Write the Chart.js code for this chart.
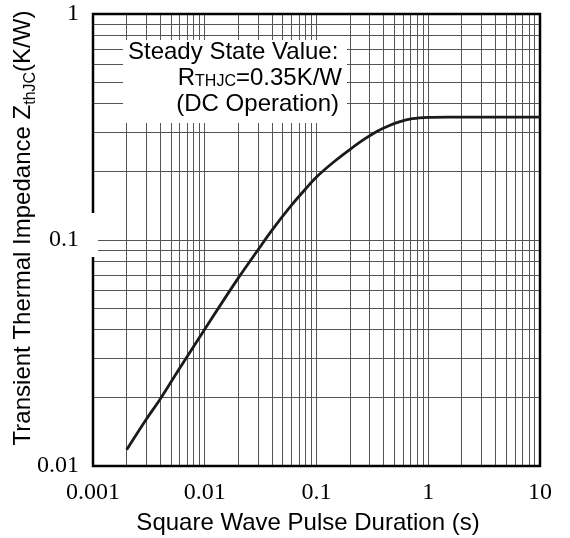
<!DOCTYPE html>
<html>
<head>
<meta charset="utf-8">
<script src="https://cdn.jsdelivr.net/npm/chart.js@4.4.1/dist/chart.umd.min.js"></script>
<style>
  body { margin: 0; background: #fff; }
  #wrap { width: 570px; height: 538px; position: relative; }
</style>
</head>
<body>
<div id="wrap"><canvas id="zthChart"></canvas></div>
<script>
// pulse duration (s) vs transient thermal impedance (K/W)
const pulseDuration = [0.002, 0.003, 0.004, 0.006, 0.01, 0.02, 0.03, 0.04, 0.06, 0.08, 0.1, 0.15, 0.2, 0.27, 0.35, 0.45, 0.55, 0.72, 1, 1.5, 3, 10];
const zthJC = [0.0118, 0.0161, 0.0198, 0.0272, 0.0403, 0.068, 0.0905, 0.1105, 0.143, 0.1685, 0.19, 0.226, 0.252, 0.28, 0.303, 0.321, 0.333, 0.344, 0.349, 0.35, 0.35, 0.35];

// axis decades and their labels
const xDecades = [0.001, 0.01, 0.1, 1, 10];
const xTickLabels = ["0.001", "0.01", "0.1", "1", "10"];
const yDecades = [0.01, 0.1, 1];
const yTickLabels = ["0.01", "0.1", "1"];
const gridSteps = [1, 2, 3, 4, 5, 6, 7, 8, 9];

const sansFont = "'Liberation Sans', Arial, sans-serif";
const serifFont = "'Liberation Serif', 'Times New Roman', serif";

// grid lines at 1..9 of every decade, up to the last decade
function gridValues(decades) {
  const vals = [];
  decades.forEach((d, i) => {
    if (i === decades.length - 1) {
      vals.push(d);
    } else {
      gridSteps.forEach((s) => vals.push(+(d * s).toPrecision(6)));
    }
  });
  return vals.map((v) => ({ value: v }));
}

function decadeLabel(value, decades, labels) {
  const idx = decades.findIndex((d) => Math.abs(d - value) / d < 1e-6);
  return idx >= 0 ? labels[idx] : "";
}

// borders, white label box and texts with subscripts
const decorPlugin = {
  id: "decor",
  beforeDatasetsDraw: (chart) => {
    const ctx = chart.ctx;
    const a = chart.chartArea;
    ctx.save();
    ctx.strokeStyle = "#000";
    ctx.lineWidth = 2.5;
    ctx.strokeRect(a.left, a.top, a.right - a.left, a.bottom - a.top);
    // gap in left border next to "0.1"
    ctx.fillStyle = "#fff";
    ctx.fillRect(a.left - 4, 213, 9, 44);
    // annotation box
    ctx.fillRect(123, 40, 224, 83);
    ctx.restore();
  },
  afterDraw: (chart) => {
    const ctx = chart.ctx;
    ctx.save();
    ctx.fillStyle = "#000";
    ctx.textBaseline = "alphabetic";

    // annotation
    ctx.font = "24px " + sansFont;
    ctx.textAlign = "left";
    ctx.fillText("Steady State Value:", 128, 59);

    const big = "24px " + sansFont;
    const small = "16px " + sansFont;
    ctx.font = big;
    const wR = ctx.measureText("R").width;
    const wRest = ctx.measureText("=0.35K/W").width;
    ctx.font = small;
    const wSub = ctx.measureText("THJC").width;
    let x = 342 - (wR + wSub + wRest);
    ctx.font = big;
    ctx.fillText("R", x, 85);
    x += wR;
    ctx.font = small;
    ctx.fillText("THJC", x, 86);
    x += wSub;
    ctx.font = big;
    ctx.fillText("=0.35K/W", x, 85);

    ctx.textAlign = "right";
    ctx.fillText("(DC Operation)", 339, 111);

    // x axis title
    ctx.textAlign = "center";
    ctx.fillText("Square Wave Pulse Duration (s)", 308, 530);

    // y axis title, rotated
    ctx.translate(30, 228);
    ctx.rotate(-Math.PI / 2);
    ctx.textAlign = "left";
    const t1 = "Transient Thermal Impedance Z";
    const t2 = "thJC";
    const t3 = "(K/W)";
    ctx.font = big;
    const w1 = ctx.measureText(t1).width;
    const w3 = ctx.measureText(t3).width;
    ctx.font = small;
    const w2 = ctx.measureText(t2).width;
    let tx = -(w1 + w2 + w3) / 2;
    ctx.font = big;
    ctx.fillText(t1, tx, 0);
    tx += w1;
    ctx.font = small;
    ctx.fillText(t2, tx, 5);
    tx += w2;
    ctx.font = big;
    ctx.fillText(t3, tx, 0);
    ctx.restore();
  },
};

const ctx = document.getElementById("zthChart").getContext("2d");
new Chart(ctx, {
  type: "scatter",
  data: {
    datasets: [
      {
        label: "ZthJC",
        data: pulseDuration.map((t, i) => ({ x: t, y: zthJC[i] })),
        showLine: true,
        borderColor: "#1a1a1a",
        borderWidth: 2.8,
        pointRadius: 0,
        cubicInterpolationMode: "monotone",
        fill: false,
      },
    ],
  },
  options: {
    responsive: true,
    maintainAspectRatio: false,
    animation: false,
    layout: { padding: { top: 14, right: 30, left: 0, bottom: 0 } },
    plugins: {
      legend: { display: false },
      tooltip: { enabled: false },
    },
    scales: {
      x: {
        type: "logarithmic",
        min: 0.001,
        max: 10,
        afterBuildTicks: (scale) => {
          scale.ticks = gridValues(xDecades);
        },
        afterFit: (scale) => {
          scale.height = 72;
          scale.paddingLeft = 0;
          scale.paddingRight = 0;
        },
        grid: { color: "#555", lineWidth: 1, drawTicks: false },
        border: { display: false },
        ticks: {
          autoSkip: false,
          maxRotation: 0,
          padding: 12,
          color: "#000",
          font: { family: serifFont, size: 24 },
          callback: (value) => decadeLabel(value, xDecades, xTickLabels),
        },
      },
      y: {
        type: "logarithmic",
        min: 0.01,
        max: 1,
        afterBuildTicks: (scale) => {
          scale.ticks = gridValues(yDecades);
        },
        afterFit: (scale) => {
          scale.width = 93;
          scale.paddingTop = 0;
          scale.paddingBottom = 0;
        },
        grid: { color: "#555", lineWidth: 1, drawTicks: false },
        border: { display: false },
        ticks: {
          autoSkip: false,
          padding: 14,
          color: "#000",
          font: { family: serifFont, size: 24 },
          callback: (value) => decadeLabel(value, yDecades, yTickLabels),
        },
      },
    },
  },
  plugins: [decorPlugin],
});
</script>
</body>
</html>
